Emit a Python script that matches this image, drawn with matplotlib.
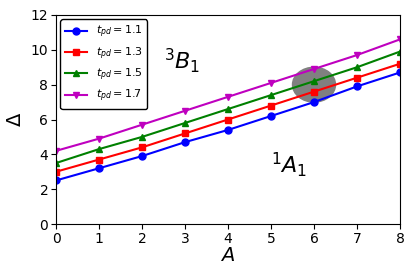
import matplotlib
matplotlib.use("Agg")
import matplotlib.pyplot as plt
from matplotlib.patches import Ellipse

A = [0, 1, 2, 3, 4, 5, 6, 7, 8]
d11 = [2.5, 3.2, 3.9, 4.7, 5.4, 6.2, 7.0, 7.9, 8.7]
d13 = [3.0, 3.7, 4.4, 5.2, 6.0, 6.8, 7.6, 8.4, 9.2]
d15 = [3.5, 4.3, 5.0, 5.8, 6.6, 7.4, 8.2, 9.0, 9.9]
d17 = [4.2, 4.9, 5.7, 6.5, 7.3, 8.1, 8.9, 9.7, 10.6]
labels = [r"$t_{pd}=1.1$", r"$t_{pd}=1.3$", r"$t_{pd}=1.5$", r"$t_{pd}=1.7$"]

fig = plt.figure(figsize=(4.15, 2.77), dpi=100)
ax = fig.add_axes([56/415, 1-224/277, 344/415, 209/277])
ax.add_patch(Ellipse((6, 8.0), 1.0, 2.0, color='gray', zorder=1))
ax.plot(A, d11, 'b-o', ms=5, lw=1.5, label=labels[0], zorder=2)
ax.plot(A, d13, 'r-s', ms=5, lw=1.5, label=labels[1], zorder=2)
ax.plot(A, d15, 'g-^', ms=5, lw=1.5, label=labels[2], zorder=2)
ax.plot(A, d17, 'm-v', ms=5, lw=1.5, label=labels[3], zorder=2)
ax.set_xlim(0, 8)
ax.set_ylim(0, 12)
ax.set_xticks(range(0, 9))
ax.set_yticks(range(0, 13, 2))
ax.tick_params(labelsize=10, pad=2)
ax.set_xlabel(r"$A$", fontsize=14, labelpad=0)
ax.set_ylabel(r"$\Delta$", fontsize=14)
ax.text(2.5, 9.4, r"$^3B_1$", fontsize=16, va='center')
ax.text(5.0, 3.4, r"$^1A_1$", fontsize=16, va='center')
leg = ax.legend(loc='upper left', fontsize=8, framealpha=1, edgecolor='black',
                handlelength=2.0, borderaxespad=0.4, labelspacing=0.45)
leg.get_frame().set_linewidth(1.0)
fig.savefig("out.png", dpi=100)
